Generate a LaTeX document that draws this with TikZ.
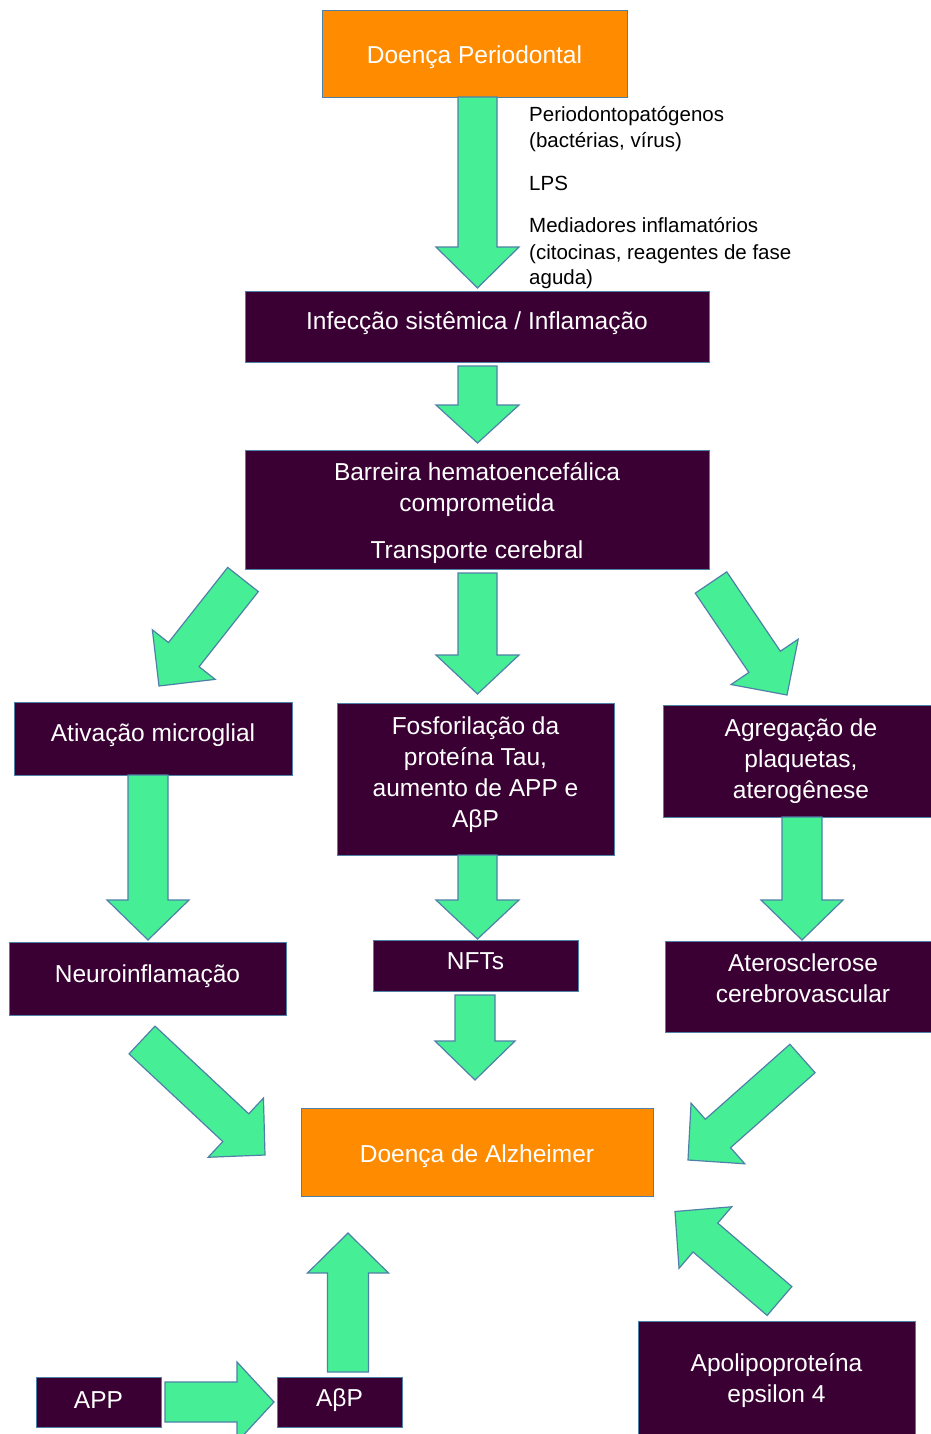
\documentclass[tikz,border=0pt]{standalone}
\usepackage{fontspec}
\setmainfont{Liberation Sans}
\usetikzlibrary{calc}
\definecolor{orng}{HTML}{FF8C00}
\definecolor{purp}{HTML}{3A0034}
\definecolor{grn}{HTML}{46EF95}
\definecolor{edgec}{HTML}{4F81A8}
\tikzset{
 box/.style={draw=edgec, line width=1.3pt, fill=purp, anchor=north west, inner sep=0pt},
 obox/.style={box, fill=orng},
 btxt/.style={text=white, inner sep=0pt, align=center, font=\fontsize{24.5}{31}\selectfont},
 blockst/.style={draw=edgec, line width=1.2pt, fill=grn, line join=miter},
 lbl/.style={anchor=base west, inner sep=0pt, font=\fontsize{20.5}{26.5}\selectfont},
}
\newcommand{\blockarrow}[5]{%
 \coordinate (bah) at ($(#2)!#5!(#1)$);
 \draw[blockst] ($(#1)!#3!90:(#2)$) -- ($(bah)!#3!90:(#2)$) -- ($(bah)!#4!90:(#2)$) -- (#2) -- ($(bah)!#4!-90:(#2)$) -- ($(bah)!#3!-90:(#2)$) -- ($(#1)!#3!-90:(#2)$) -- cycle;}
\begin{document}
\begin{tikzpicture}[x=1pt,y=-1pt]
\clip (0,0) rectangle (931,1434);
\fill[white] (0,0) rectangle (931,1434);
% boxes
\node[obox, minimum width=305pt, minimum height=87pt] (dp) at (322,10) {};
\node[btxt] (dpt) at (474.5,57.5) {Doença Periodontal};
\node[box, minimum width=464pt, minimum height=71pt] (inf) at (245,291) {};
\node[btxt] (inft) at (477,323.5) {Infecção sistêmica / Inflamação};
\node[box, minimum width=464pt, minimum height=119pt] (bar) at (245,450) {};
\node[btxt] (bart) at (477,513.5) {Barreira hematoencefálica\\comprometida\\[16pt]Transporte cerebral};
\node[box, minimum width=278pt, minimum height=73pt] (ati) at (14,702) {};
\node[btxt] (atit) at (153,735.5) {Ativação microglial};
\node[box, minimum width=277pt, minimum height=152pt] (fos) at (337,703) {};
\node[btxt] (fost) at (475.5,774.5) {Fosforilação da\\proteína Tau,\\aumento de APP e\\AβP};
\node[box, minimum width=276pt, minimum height=112pt] (agr) at (663,705) {};
\node[btxt] (agrt) at (801,761) {Agregação de\\plaquetas,\\aterogênese};
\node[box, minimum width=277pt, minimum height=73pt] (neu) at (9,942) {};
\node[btxt] (neut) at (147.5,976.5) {Neuroinflamação};
\node[box, minimum width=205pt, minimum height=51pt] (nft) at (373,940) {};
\node[btxt] (nftt) at (475.5,961.5) {NFTs};
\node[box, minimum width=276pt, minimum height=91pt] (ate) at (665,941) {};
\node[btxt] (atet) at (803,978) {Aterosclerose\\cerebrovascular};
\node[obox, minimum width=352pt, minimum height=88pt] (alz) at (301,1108) {};
\node[btxt] (alzt) at (477,1156) {Doença de Alzheimer};
\node[box, minimum width=125pt, minimum height=50pt] (app) at (36,1377) {};
\node[btxt] (appt) at (98.5,1400) {APP};
\node[box, minimum width=125pt, minimum height=50pt] (abp) at (277,1377) {};
\node[btxt] (abpt) at (339.5,1400) {AβP};
\node[box, minimum width=277pt, minimum height=125pt] (apo) at (638,1321) {};
\node[btxt] (apot) at (776.5,1380.5) {Apolipoproteína\\epsilon 4};
% labels
\node[lbl] (l1) at (529,122) {Periodontopatógenos};
\node[lbl] (l2) at (529,148) {(bactérias, vírus)};
\node[lbl] (l3) at (529,190) {LPS};
\node[lbl] (l4) at (529,232) {Mediadores inflamatórios};
\node[lbl] (l5) at (529,259) {(citocinas, reagentes de fase};
\node[lbl] (l6) at (529,284) {aguda)};
% arrow end points
\coordinate (a1s) at (477.5,97);   \coordinate (a1e) at (477.5,288);
\coordinate (a2s) at (477.5,366);  \coordinate (a2e) at (477.5,443);
\coordinate (a3s) at (243,579.5);  \coordinate (a3e) at (159,686);
\coordinate (a4s) at (477.5,573);  \coordinate (a4e) at (477.5,694);
\coordinate (a5s) at (711,582.5);  \coordinate (a5e) at (787,695);
\coordinate (a6s) at (148,775);    \coordinate (a6e) at (148,940);
\coordinate (a7s) at (477.5,855);  \coordinate (a7e) at (477.5,939);
\coordinate (a8s) at (802,817);    \coordinate (a8e) at (802,940);
\coordinate (a9s) at (475,995);    \coordinate (a9e) at (475,1080);
\coordinate (a10s) at (142,1040);  \coordinate (a10e) at (265,1155);
\coordinate (a11s) at (802.5,1058.5); \coordinate (a11e) at (688,1160);
\coordinate (a12s) at (779.5,1301); \coordinate (a12e) at (675,1211.5);
\coordinate (a13s) at (348,1372);  \coordinate (a13e) at (348,1233);
\coordinate (a14s) at (165,1402);  \coordinate (a14e) at (274,1402);
\blockarrow{a1s}{a1e}{19.5pt}{41.5pt}{41pt}
\blockarrow{a2s}{a2e}{19.5pt}{41.5pt}{38pt}
\blockarrow{a3s}{a3e}{19.5pt}{40pt}{40pt}
\blockarrow{a4s}{a4e}{19.5pt}{41.5pt}{39pt}
\blockarrow{a5s}{a5e}{19pt}{40.5pt}{40pt}
\blockarrow{a6s}{a6e}{20pt}{41pt}{40pt}
\blockarrow{a7s}{a7e}{19.5pt}{41.5pt}{39pt}
\blockarrow{a8s}{a8e}{20pt}{41pt}{40pt}
\blockarrow{a9s}{a9e}{20pt}{40pt}{39pt}
\blockarrow{a10s}{a10e}{19pt}{40.5pt}{40pt}
\blockarrow{a11s}{a11e}{19pt}{40.5pt}{40pt}
\blockarrow{a12s}{a12e}{19pt}{40.5pt}{40pt}
\blockarrow{a13s}{a13e}{20.5pt}{40.5pt}{40pt}
\blockarrow{a14s}{a14e}{20pt}{40pt}{37pt}
\end{tikzpicture}
\end{document}
